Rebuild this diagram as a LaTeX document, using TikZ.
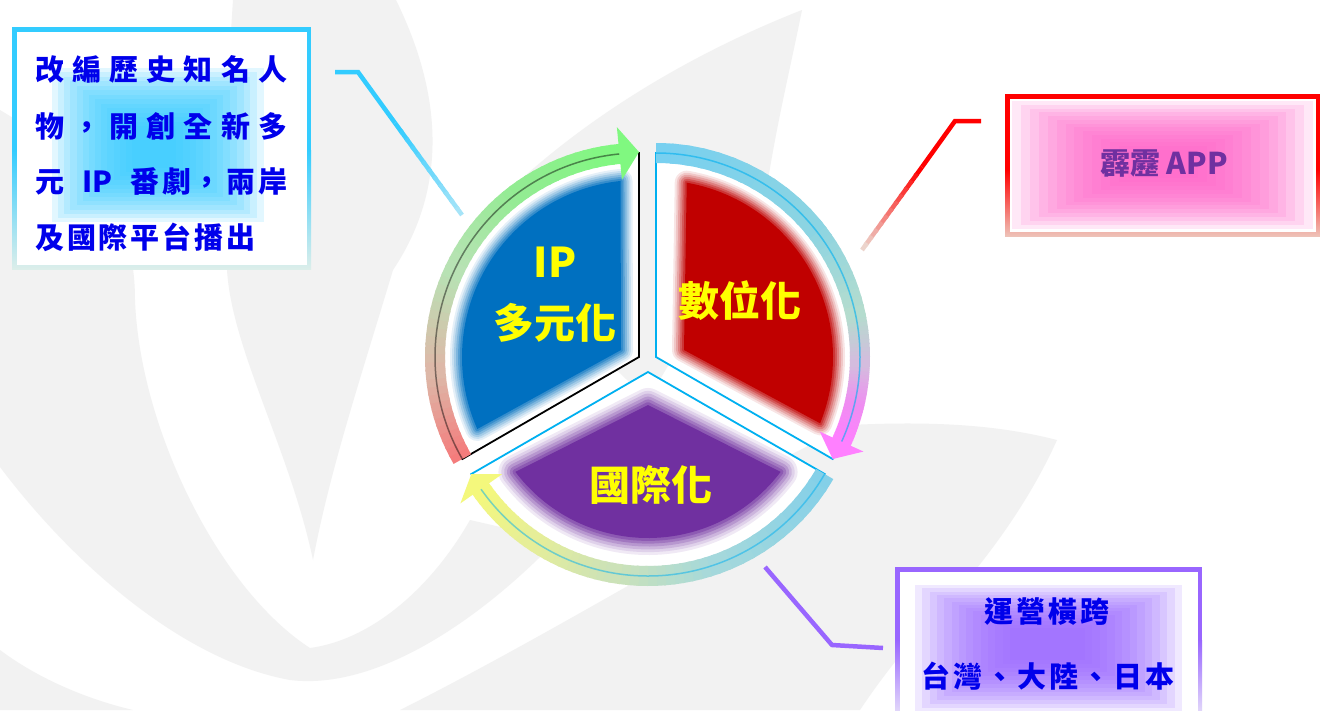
\documentclass[tikz,border=0pt]{standalone}
\usepackage{fontspec}
\setmainfont{Noto Sans CJK TC}
\usetikzlibrary{calc}
\definecolor{wm}{HTML}{F2F2F2}
\definecolor{cyanb}{HTML}{33CCFF}
\definecolor{cyanpale}{HTML}{DCEEEA}
\definecolor{txtblue}{RGB}{0,0,235}
\definecolor{redb}{HTML}{FF0000}
\definecolor{redpale}{HTML}{EEC2B8}
\definecolor{pinkglow}{HTML}{FF5FC8}
\definecolor{appviolet}{HTML}{7030A0}
\definecolor{purpb}{HTML}{9966FF}
\definecolor{purppale}{HTML}{E2D8FA}
\definecolor{secblue}{HTML}{0070C0}
\definecolor{secred}{HTML}{C00000}
\definecolor{secpurp}{HTML}{7030A0}
\definecolor{lineblue}{HTML}{00B0F0}
\definecolor{ipA}{HTML}{F47C7C}
\definecolor{ipB}{HTML}{DDB8A8}
\definecolor{ipC}{HTML}{B8E2B4}
\definecolor{ipD}{HTML}{92EC92}
\definecolor{ipE}{HTML}{80F880}
\definecolor{dgA}{HTML}{78D0F0}
\definecolor{dgB}{HTML}{8CD4E2}
\definecolor{dgC}{HTML}{B4DCCE}
\definecolor{dgD}{HTML}{D4BCDE}
\definecolor{dgE}{HTML}{F08CF2}
\definecolor{dgF}{HTML}{FF80FF}
\definecolor{gjA}{HTML}{84D0E8}
\definecolor{gjB}{HTML}{A4D8DC}
\definecolor{gjC}{HTML}{CCE2B8}
\definecolor{gjD}{HTML}{E6EE98}
\definecolor{gjE}{HTML}{F4F87C}
\definecolor{leadcyanpale}{HTML}{A6E4F8}
\definecolor{leadredpale}{HTML}{ECD4CC}
\definecolor{yel}{HTML}{FFFF00}

% gradient arc: #1 centre, #2 radius, #3 start, #4 end, #5 colour0, #6 colour1
\newcommand\gradarc[6]{%
  \foreach \gi in {0,...,11}{%
    \pgfmathsetmacro\ga{(#3)+((#4)-(#3))*\gi/12}%
    \pgfmathsetmacro\gb{(#3)+((#4)-(#3))*(\gi+1.3)/12}%
    \pgfmathsetmacro\gp{100*\gi/11}%
    \draw[line width=20pt, color=#6!\gp!#5] (#1) ++(\ga:#2) arc[start angle=\ga, end angle=\gb, radius=#2];
  }}
% gradient line: #1 p0, #2 p1, #3 c0, #4 c1, #5 width
\newcommand\gradline[5]{%
  \foreach \gi in {0,...,11}{%
    \pgfmathsetmacro\gp{100*\gi/11}%
    \pgfmathsetmacro\ga{\gi/12}%
    \pgfmathsetmacro\gb{min(1,(\gi+1.3)/12)}%
    \draw[line width=#5, color=#4!\gp!#3] ($(#1)!\ga!(#2)$) -- ($(#1)!\gb!(#2)$);
  }}
% soft-edged fill
\newcommand\softfill[3]{%
  \foreach \sw/\so in {1/0.1,0.83/0.13,0.67/0.17,0.5/0.22,0.33/0.3,0.17/0.4}{%
    \pgfmathsetmacro\slw{\sw*#2}%
    \draw[#1, opacity=\so, line width=\slw pt, line join=round] #3;}%
  \fill[#1] #3;}
% rectangular glow
\newcommand\rectglow[9]{%
  \foreach \gk in {0,...,13}{%
    \pgfmathsetmacro\gt{\gk/13}%
    \fill[#1, opacity=0.14] ({#2+(#6-#2)*\gt},{#3+(#7-#3)*\gt}) rectangle ({#4+(#8-#4)*\gt},{#5+(#9-#5)*\gt});
  }}

\tikzset{
  lbtxt/.style={inner sep=0pt, anchor=west, text=txtblue, font=\fontsize{29pt}{29pt}\selectfont\bfseries},
  brtxt/.style={inner sep=0pt, text=txtblue, font=\fontsize{29pt}{29pt}\selectfont\bfseries},
  sectxt/.style={inner sep=0pt, text=yel, font=\fontsize{41pt}{41pt}\selectfont\bfseries},
  leader/.style={line width=4.5pt, line join=miter}
}

\begin{document}
\begin{tikzpicture}[x=1pt,y=-1pt]
\useasboundingbox (0,0) rectangle (1320,710);
\fill[white] (0,0) rectangle (1320,710);

% ---------- watermark ----------
\fill[wm] (0,110) .. controls (100,170) and (135,220) .. (135,300)
  .. controls (140,430) and (220,590) .. (310,648)
  .. controls (370,640) and (430,590) .. (470,520) -- (557,540)
  .. controls (470,630) and (370,690) .. (290,680)
  .. controls (180,660) and (70,560) .. (0,467) -- cycle;
\fill[wm] (233,0) -- (396,0) .. controls (450,110) and (440,200) .. (393,270)
  .. controls (360,380) and (330,470) .. (313,560)
  .. controls (290,450) and (232,350) .. (227,270)
  .. controls (224,160) and (229,60) .. (233,0) -- cycle;
\fill[wm] (0,650) .. controls (40,680) and (90,700) .. (133,710) -- (0,710) -- cycle;
\fill[wm] (400,710) .. controls (500,660) and (620,590) .. (700,545) -- (760,470) -- (850,425)
  .. controls (950,420) and (1010,428) .. (1057,440)
  .. controls (1030,500) and (990,555) .. (950,600)
  .. controls (910,640) and (880,680) .. (860,710) -- cycle;
\fill[wm] (802,10) .. controls (700,50) and (570,120) .. (470,230) -- (648,400) -- (765,200)
  .. controls (775,130) and (790,70) .. (802,10) -- cycle;

% ---------- left box ----------
\fill[cyanb] (12,27) rectangle (311,152);
\shade[top color=cyanb, bottom color=cyanpale] (12,150) rectangle (311,269);
\fill[white] (16.5,31.5) rectangle (306.5,264.5);
\rectglow{cyanb}{52}{68}{264}{222}{132}{126}{176}{168}
\node[lbtxt] (l1) at (35,69) {\makebox[252pt][l]{改\hfill 編\hfill 歷\hfill 史\hfill 知\hfill 名\hfill 人}};
\node[lbtxt] (l2) at (35,126) {\makebox[252pt][l]{物\hfill ，\hfill 開\hfill 創\hfill 全\hfill 新\hfill 多}};
\node[lbtxt] (l3) at (35,181) {\makebox[252pt][l]{元\hfill IP\hfill 番\hspace{3pt}劇\hspace{1pt}，\hspace{5pt}兩\hspace{3pt}岸}};
\node[lbtxt] (l4) at (35,237) {\makebox[220pt][l]{及\hfill 國\hfill 際\hfill 平\hfill 台\hfill 播\hfill 出}};

% ---------- top right box ----------
\fill[redb] (1005,94) rectangle (1320,172);
\shade[top color=redb, bottom color=redpale] (1005,170) rectangle (1320,236);
\fill[white] (1009.5,98.5) rectangle (1315.5,231.5);
\rectglow{pinkglow}{1012}{101}{1313}{229}{1128}{150}{1198}{178}
\node[inner sep=0pt, text=appviolet, font=\fontsize{30pt}{30pt}\selectfont\bfseries] (app) at (1164,164) {霹靂 APP};

% ---------- bottom right box ----------
\fill[purpb] (895,567) rectangle (1202,642);
\shade[top color=purpb, bottom color=purppale] (895,640) rectangle (1202,712);
\fill[white] (899.5,571.5) rectangle (1197.5,712);
\rectglow{purpb}{915}{585}{1182}{712}{1010}{628}{1085}{660}
\node[brtxt] (br1) at (1047,612) {\makebox[125pt][l]{運\hfill 營\hfill 橫\hfill 跨}};
\node[brtxt] (br2) at (1048,676) {\makebox[253pt][l]{台\hfill 灣\hfill 、\hfill 大\hfill 陸\hfill 、\hfill 日\hfill 本}};

% ---------- leaders ----------
\coordinate (lla) at (335,72);
\coordinate (llb) at (358,72);
\coordinate (llm) at (395,123);
\coordinate (llc) at (462,215);
\draw[leader, cyanb] (lla) -- (llb) -- (llm);
\gradline{llm}{llc}{cyanb}{leadcyanpale}{4.5pt}

\coordinate (rla) at (981,121);
\coordinate (rlb) at (955,121);
\coordinate (rlm) at (922,167);
\coordinate (rlc) at (862,250);
\draw[leader, redb] (rla) -- (rlb) -- (rlm);
\gradline{rlm}{rlc}{redb}{leadredpale}{4.5pt}

\coordinate (pla) at (765,567);
\coordinate (plb) at (832,645);
\coordinate (plc) at (883,648);
\draw[leader, purpb] (pla) -- (plb) -- (plc);

% ---------- sectors ----------
\coordinate (A1) at (639,357);
\coordinate (A2) at (656,357);
\coordinate (A3) at (648,372);
\draw[fill=white, draw=black, line width=1.8pt] (A1) -- ++(150:204) arc[start angle=150, end angle=270, radius=204] -- cycle;
\draw[fill=white, draw=lineblue, line width=1.8pt] (A2) -- ++(-90:204) arc[start angle=-90, end angle=30, radius=204] -- cycle;
\draw[fill=white, draw=lineblue, line width=1.8pt] (A3) -- ++(30:204) arc[start angle=30, end angle=150, radius=204] -- cycle;

\softfill{secblue}{24}{(A1) ++(156:177) arc[start angle=156, end angle=264, radius=177] -- (621,350) -- cycle}
\softfill{secred}{24}{(A2) ++(-80:177) arc[start angle=-80, end angle=22, radius=177] -- (684,350) -- cycle}
\softfill{secpurp}{34}{(648,405) -- ($(A3)+(37:166)$) arc[start angle=37, end angle=143, radius=166] -- cycle}

\node[sectxt] (ip1) at (555,262) {IP};
\node[sectxt] (ip2) at (555,323) {多元化};
\node[sectxt] (dig) at (740,301) {數位化};
\node[sectxt] (intl) at (651,485) {國際化};

% ---------- ring arrows ----------
\gradarc{A1}{204}{150}{176}{ipA}{ipB}
\gradarc{A1}{204}{176}{205}{ipB}{ipC}
\gradarc{A1}{204}{205}{235}{ipC}{ipD}
\gradarc{A1}{204}{235}{264.5}{ipD}{ipE}
\draw[black, opacity=.45, line width=1.5pt] (A1) ++(150:204) arc[start angle=150, end angle=264.5, radius=204];
\fill[ipE] ($(A1)+(264.5:178)$) -- ($(A1)+(270:205)$) -- ($(A1)+(264.5:231)$) -- cycle;

\gradarc{A2}{204}{-90}{-40}{dgA}{dgB}
\gradarc{A2}{204}{-40}{-12}{dgB}{dgC}
\gradarc{A2}{204}{-12}{2}{dgC}{dgD}
\gradarc{A2}{204}{2}{14}{dgD}{dgE}
\gradarc{A2}{204}{14}{24.5}{dgE}{dgF}
\draw[lineblue, opacity=.6, line width=1.5pt] (A2) ++(-90:204) arc[start angle=-90, end angle=25, radius=204];
\fill[dgF] ($(A2)+(24.5:180)$) -- ($(A2)+(30:204)$) -- ($(A2)+(24.5:228)$) -- cycle;

\gradarc{A3}{204}{30}{70}{gjA}{gjB}
\gradarc{A3}{204}{70}{100}{gjB}{gjC}
\gradarc{A3}{204}{100}{125}{gjC}{gjD}
\gradarc{A3}{204}{125}{145}{gjD}{gjE}
\draw[lineblue, opacity=.5, line width=1.5pt] (A3) ++(30:204) arc[start angle=30, end angle=145, radius=204];
\fill[gjE] ($(A3)+(145:178)$) -- ($(A3)+(150:204)$) -- ($(A3)+(145:229)$) -- cycle;
\end{tikzpicture}
\end{document}
